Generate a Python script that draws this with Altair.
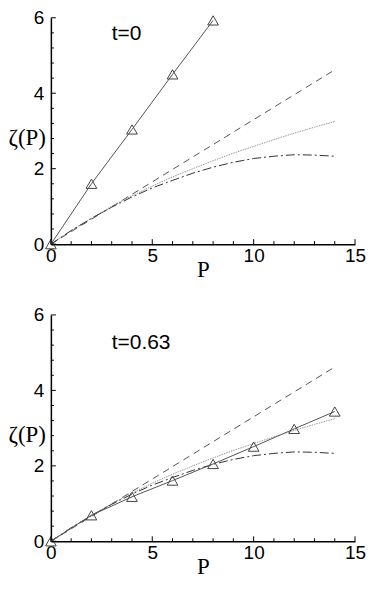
import altair as alt
import pandas as pd

# ---- data ----
P_grid = list(range(15))
P_even = [0, 2, 4, 6, 8, 10, 12, 14]

zeta_dashed = [0, 0.66, 1.32, 1.98, 2.64, 3.30, 3.96, 4.62]           # at P_even
zeta_dotted = [0, 0.36, 0.69, 1.00, 1.28, 1.54, 1.78, 2.00, 2.21, 2.41,
               2.59, 2.77, 2.94, 3.10, 3.25]                            # at P_grid
zeta_dashdot = [0, 0.36, 0.68, 0.98, 1.25, 1.49, 1.69, 1.88, 2.04, 2.17,
                2.27, 2.33, 2.37, 2.36, 2.33]                           # at P_grid

P_t0 = [0, 2, 4, 6, 8]
zeta_t0 = [0, 1.60, 3.04, 4.50, 5.93]

P_t063 = [0, 2, 4, 6, 8, 10, 12, 14]
zeta_t063 = [0, 0.69, 1.18, 1.61, 2.05, 2.51, 2.98, 3.44]

x_major = [0, 5, 10, 15]
x_minor = [1, 2, 3, 4, 6, 7, 8, 9, 11, 12, 13, 14]
y_major = [0, 2, 4, 6]
y_minor = [0.4, 0.8, 1.2, 1.6, 2.4, 2.8, 3.2, 3.6, 4.4, 4.8, 5.2, 5.6]

labels = ["t=0", "t=0.63"]

SANS = "Liberation Sans"
SERIF = "Liberation Serif"
W = 305


def panel(tri_P, tri_z, label, label_y, H):
    axis_x = alt.Axis(values=x_major, ticks=False, domainColor="black",
                      domainWidth=1.5, labelFont=SANS, labelFontSize=19,
                      labelColor="black", labelPadding=2, grid=False,
                      title="P", titleFont=SERIF, titleFontSize=23,
                      titleFontWeight="normal", titleColor="black",
                      titlePadding=-7, labelFlush=False)
    axis_y = alt.Axis(values=y_major, ticks=False, domainColor="black",
                      domainWidth=1.5, labelFont=SANS, labelFontSize=19,
                      labelColor="black", labelPadding=7, grid=False,
                      title="ζ(P)", titleFont=SERIF, titleFontSize=23,
                      titleFontWeight="normal", titleColor="black",
                      titleAngle=0, titleAlign="left", titleBaseline="middle",
                      titleX=-43, titleY=0.53 * H, labelFlush=False)
    X = alt.X("P:Q", scale=alt.Scale(domain=[0, 15], nice=False), axis=axis_x)
    Y = alt.Y("zeta:Q", scale=alt.Scale(domain=[0, 6], nice=False), axis=axis_y)

    d_dash = pd.DataFrame({"P": P_even, "zeta": zeta_dashed})
    d_dot = pd.DataFrame({"P": P_grid, "zeta": zeta_dotted})
    d_dd = pd.DataFrame({"P": P_grid, "zeta": zeta_dashdot})
    d_tri = pd.DataFrame({"P": tri_P, "zeta": tri_z})

    dashed = alt.Chart(d_dash).mark_line(color="#555", strokeWidth=1,
                                         strokeDash=[7, 5]).encode(x=X, y=Y)
    dotted = alt.Chart(d_dot).mark_line(color="#999", strokeWidth=1,
                                        strokeDash=[1.5, 1]).encode(x=X, y=Y)
    dashdot = alt.Chart(d_dd).mark_line(color="#333", strokeWidth=1,
                                        strokeDash=[9, 3, 2, 3]).encode(x=X, y=Y)
    triline = alt.Chart(d_tri).mark_line(color="#555", strokeWidth=1).encode(x=X, y=Y)
    tripts = alt.Chart(d_tri).mark_point(shape="triangle-up", size=115,
                                         filled=False, color="#444",
                                         strokeWidth=1, opacity=1).encode(x=X, y=Y)
    txt = alt.Chart(pd.DataFrame({"t": [label]})).mark_text(
        align="left", baseline="middle", font=SANS, fontSize=21, color="black"
    ).encode(x=alt.datum(3.0, type="quantitative"),
             y=alt.datum(label_y, type="quantitative"), text="t:N")

    xmaj = alt.Chart(pd.DataFrame({"P": x_major})).mark_rule(color="black", strokeWidth=1).encode(
        x=X, y=alt.value(H), y2=alt.value(H - 5))
    xmin = alt.Chart(pd.DataFrame({"P": x_minor})).mark_rule(color="black", strokeWidth=1).encode(
        x=X, y=alt.value(H), y2=alt.value(H - 3))
    ymaj = alt.Chart(pd.DataFrame({"zeta": y_major})).mark_rule(color="black", strokeWidth=1).encode(
        y=Y, x=alt.value(0), x2=alt.value(5))
    ymin = alt.Chart(pd.DataFrame({"zeta": y_minor})).mark_rule(color="black", strokeWidth=1).encode(
        y=Y, x=alt.value(0), x2=alt.value(3))

    return alt.layer(dashed, dotted, dashdot, triline, tripts, txt,
                     xmaj, xmin, ymaj, ymin).properties(width=W, height=H)


top = panel(P_t0, zeta_t0, labels[0], 5.58, 227)
bottom = panel(P_t063, zeta_t063, labels[1], 5.26, 227)

chart = alt.vconcat(top, bottom, spacing=25).properties(
    padding=0, background="white"
).configure_view(stroke=None)

chart.save("out.html", embed_options={"renderer": "svg", "actions": False})
